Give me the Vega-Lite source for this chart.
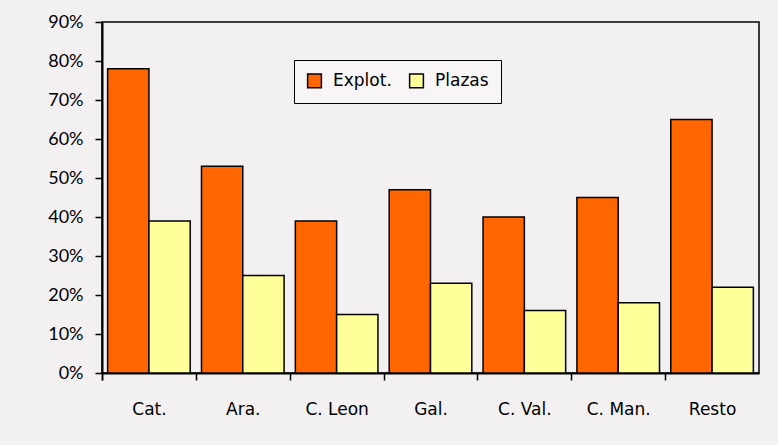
{
  "$schema": "https://vega.github.io/schema/vega-lite/v6.json",
  "width": 657,
  "height": 351,
  "autosize": {"type": "none"},
  "padding": {"left": 102, "top": 22, "right": 19, "bottom": 72},
  "background": "#f3f0f2",
  "data": {
    "values": [
      {"region": "Cat.", "serie": "Explot.", "pct": 78},
      {"region": "Cat.", "serie": "Plazas", "pct": 39},
      {"region": "Ara.", "serie": "Explot.", "pct": 53},
      {"region": "Ara.", "serie": "Plazas", "pct": 25},
      {"region": "C. Leon", "serie": "Explot.", "pct": 39},
      {"region": "C. Leon", "serie": "Plazas", "pct": 15},
      {"region": "Gal.", "serie": "Explot.", "pct": 47},
      {"region": "Gal.", "serie": "Plazas", "pct": 23},
      {"region": "C. Val.", "serie": "Explot.", "pct": 40},
      {"region": "C. Val.", "serie": "Plazas", "pct": 16},
      {"region": "C. Man.", "serie": "Explot.", "pct": 45},
      {"region": "C. Man.", "serie": "Plazas", "pct": 18},
      {"region": "Resto", "serie": "Explot.", "pct": 65},
      {"region": "Resto", "serie": "Plazas", "pct": 22}
    ]
  },
  "mark": {"type": "bar", "stroke": "#000000", "strokeWidth": 1.5},
  "encoding": {
    "x": {
      "field": "region",
      "type": "nominal",
      "sort": null,
      "title": null,
      "scale": {"paddingInner": 0.12, "paddingOuter": 0.06},
      "axis": {
        "labelAngle": 0,
        "labelFont": "DejaVu Sans",
        "labelFontSize": 17,
        "labelColor": "#000000",
        "labelPadding": 21,
        "labelOffset": 5.6,
        "bandPosition": 0,
        "tickExtra": true,
        "tickOffset": -5.6,
        "tickSize": 7,
        "tickColor": "#000000",
        "tickWidth": 1.5,
        "domainColor": "#000000",
        "domainWidth": 2,
        "grid": false
      }
    },
    "xOffset": {"field": "serie", "type": "nominal", "sort": ["Explot.", "Plazas"]},
    "y": {
      "field": "pct",
      "type": "quantitative",
      "title": null,
      "scale": {"domain": [0, 90], "nice": false},
      "axis": {
        "values": [0, 10, 20, 30, 40, 50, 60, 70, 80, 90],
        "labelExpr": "datum.value + '%'",
        "labelFont": "Lato",
        "labelFontSize": 18,
        "labelColor": "#000000",
        "labelPadding": 12,
        "tickSize": 7,
        "tickColor": "#000000",
        "tickWidth": 1.5,
        "domainColor": "#000000",
        "domainWidth": 2,
        "grid": false
      }
    },
    "color": {
      "field": "serie",
      "type": "nominal",
      "sort": ["Explot.", "Plazas"],
      "scale": {"domain": ["Explot.", "Plazas"], "range": ["#FF6600", "#FFFF99"]},
      "legend": {
        "title": null,
        "orient": "none",
        "legendX": 192,
        "legendY": 38,
        "direction": "horizontal",
        "symbolType": "square",
        "symbolSize": 190,
        "symbolStrokeColor": "#000000",
        "symbolStrokeWidth": 1.5,
        "symbolOpacity": 1,
        "labelFont": "DejaVu Sans",
        "labelFontSize": 17,
        "labelColor": "#000000",
        "labelOffset": 10,
        "columnPadding": 14,
        "strokeColor": "#000000",
        "fillColor": "#f7f5f6",
        "padding": 12
      }
    }
  },
  "config": {
    "view": {"stroke": "#000000", "strokeWidth": 1.5, "fill": null}
  }
}
